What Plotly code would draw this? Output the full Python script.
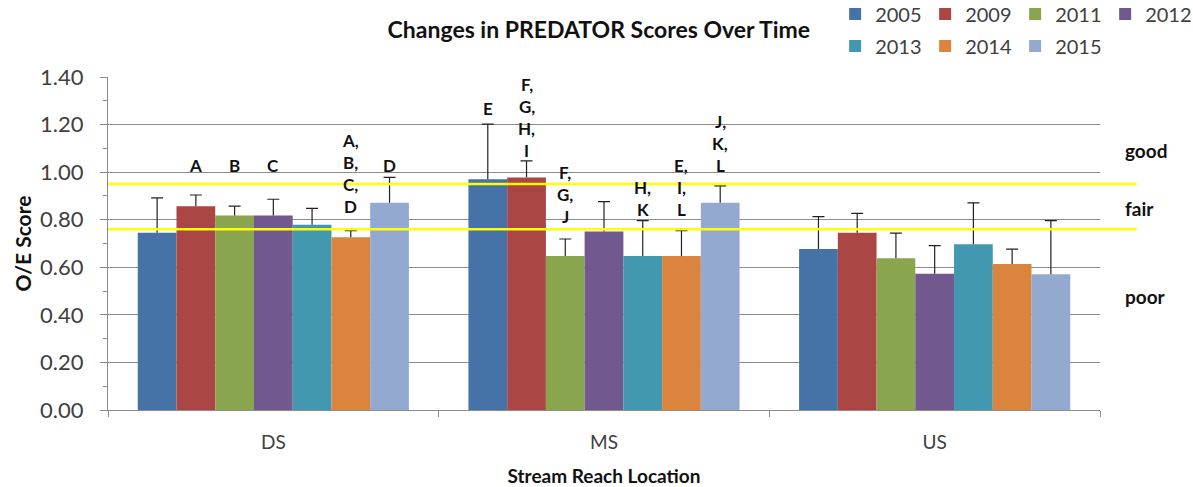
import plotly.graph_objects as go

categories = ["DS", "MS", "US"]
years = ["2005", "2009", "2011", "2012", "2013", "2014", "2015"]
colors = ["#4572A7", "#AA4643", "#89A54E", "#71588F", "#4198AF", "#DB843D", "#93A9CF"]

# mean O/E score per year, for DS, MS, US
values = {
    "2005": [0.745, 0.970, 0.677],
    "2009": [0.857, 0.978, 0.745],
    "2011": [0.818, 0.647, 0.638],
    "2012": [0.818, 0.750, 0.573],
    "2013": [0.779, 0.647, 0.697],
    "2014": [0.726, 0.647, 0.614],
    "2015": [0.871, 0.871, 0.571],
}
# upper error bar length
errors = {
    "2005": [0.147, 0.232, 0.136],
    "2009": [0.047, 0.069, 0.082],
    "2011": [0.039, 0.072, 0.106],
    "2012": [0.068, 0.126, 0.118],
    "2013": [0.069, 0.149, 0.174],
    "2014": [0.028, 0.107, 0.062],
    "2015": [0.107, 0.071, 0.225],
}
# significance letters: (category, year, text, height of lowest line)
letters = [
    ("DS", "2009", "A", 1.030),
    ("DS", "2011", "B", 1.030),
    ("DS", "2012", "C", 1.030),
    ("DS", "2014", "A,|B,|C,|D", 0.857),
    ("DS", "2015", "D", 1.030),
    ("MS", "2005", "E", 1.269),
    ("MS", "2009", "F,|G,|H,|I", 1.093),
    ("MS", "2011", "F,|G,|J", 0.815),
    ("MS", "2013", "H,|K", 0.841),
    ("MS", "2014", "E,|I,|L", 0.841),
    ("MS", "2015", "J,|K,|L", 1.030),
]
thresholds = [0.95, 0.76]
condition_labels = [("good", 1.093), ("fair", 0.849), ("poor", 0.479)]

FONT = "Lato"
fig = go.Figure()
for i, y in enumerate(years):
    fig.add_trace(go.Bar(
        x=categories, y=values[y], name=y, offsetgroup=y,
        marker=dict(color=colors[i], line=dict(width=0)),
        error_y=dict(type="data", array=errors[y], symmetric=False,
                     arrayminus=[0] * len(categories),
                     color="#222222", thickness=1.2, width=0),
        legend="legend" if i < 4 else "legend2",
    ))
# caps at the top of each error bar (zero-height bars sharing the same offset group)
for i, y in enumerate(years):
    tops = [v + e for v, e in zip(values[y], errors[y])]
    fig.add_trace(go.Bar(
        x=categories, y=[0] * len(categories), base=tops, offsetgroup=y,
        marker=dict(color="rgba(0,0,0,0)", line=dict(width=0)),
        error_y=dict(type="data", array=[0] * len(categories), symmetric=True,
                     color="#222222", thickness=1.2, width=6),
        showlegend=False, hoverinfo="skip",
    ))

bargap = 0.18
nbar = len(years)
bw = (1 - bargap) / nbar
for cat, yr, txt, base in letters:
    ci = categories.index(cat)
    yi = years.index(yr)
    xpos = ci - (1 - bargap) / 2 + bw * (yi + 0.5)
    lines = txt.split("|")
    n = len(lines)
    for k, line in enumerate(lines):
        fig.add_annotation(x=xpos, y=base, xref="x", yref="y", text=line,
                           showarrow=False, yshift=(n - 1 - k) * 22,
                           font=dict(family=FONT, size=17, color="#111111", weight="bold"))

for t in thresholds:
    fig.add_shape(type="line", xref="paper", yref="y", x0=0, x1=1.037, y0=t, y1=t,
                  line=dict(color="#FFFF00", width=2.5), layer="above")

for lab, yv in condition_labels:
    fig.add_annotation(x=1.0235, y=yv, xref="paper", yref="y", text=lab, showarrow=False,
                       xanchor="left", font=dict(family=FONT, size=19, color="#111111", weight="bold"))

legend_common = dict(orientation="h", x=0.733, xanchor="left", yanchor="middle",
                     entrywidth=45, itemwidth=30,
                     font=dict(family=FONT, size=20, color="#404040"),
                     bgcolor="rgba(0,0,0,0)")
fig.update_layout(
    width=1193, height=487,
    margin=dict(l=108, r=93, t=77, b=77, autoexpand=False),
    plot_bgcolor="white", paper_bgcolor="white",
    barmode="group", bargap=bargap, bargroupgap=0,
    title=dict(text="<b>Changes in PREDATOR Scores Over Time</b>", x=0.502, xanchor="center",
               y=0.938, yanchor="middle", font=dict(family=FONT, size=23, color="#111111")),
    font=dict(family=FONT, color="#404040"),
    legend=dict(y=1.189, **legend_common),
    legend2=dict(y=1.093, **legend_common),
    showlegend=True,
)
fig.update_yaxes(range=[0, 1.4], dtick=0.2, tickformat=".2f", showgrid=True,
                 gridcolor="#8c8c8c", gridwidth=1, showline=True, linecolor="#8c8c8c",
                 ticks="outside", ticklen=7, tickcolor="#8c8c8c", ticklabelstandoff=12,
                 minor=dict(dtick=0.1, ticks="outside", ticklen=4, tickcolor="#8c8c8c", showgrid=False),
                 tickfont=dict(family=FONT, size=22, color="#404040"),
                 title=dict(text="<b>O/E Score</b>", font=dict(family=FONT, size=21, color="#111111"),
                            standoff=2),
                 zeroline=False)
fig.update_xaxes(showline=True, linecolor="#8c8c8c", ticks="outside", tickson="boundaries",
                 ticklen=6, tickcolor="#8c8c8c", ticklabelstandoff=15,
                 tickfont=dict(family=FONT, size=19, color="#404040"),
                 title=dict(text="<b>Stream Reach Location</b>",
                            font=dict(family=FONT, size=19, color="#111111"), standoff=21))

fig.write_html("out.html", config={"displayModeBar": False},
               post_script="document.body.style.margin='0';")
